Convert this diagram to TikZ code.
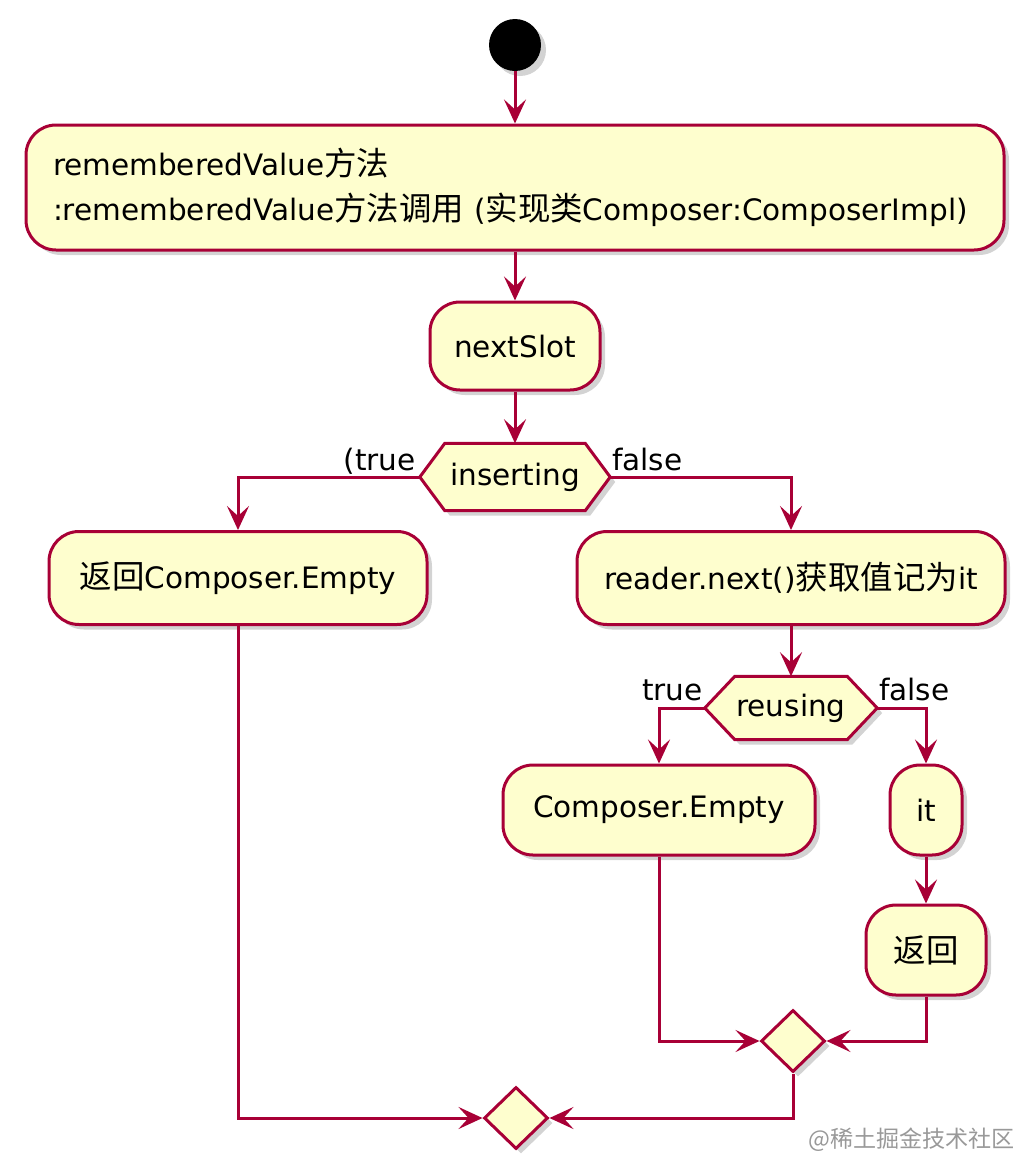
\documentclass[tikz,border=0pt]{standalone}
\usepackage{fontspec}
\setmainfont{DejaVu Sans}
\newfontfamily\cjk[Scale=1.1]{Noto Sans CJK SC}
\usetikzlibrary{arrows.meta,shapes.geometric,shadows}
\definecolor{pborder}{HTML}{A80036}
\definecolor{pfill}{HTML}{FEFECE}
\begin{document}
\begin{tikzpicture}[x=1pt,y=-1pt,
  shd/.style={drop shadow={opacity=0.35,shadow xshift=5pt,shadow yshift=-5pt}},
  txt/.style={font=\fontsize{29.5}{45}\selectfont},
  act/.style={draw=pborder,fill=pfill,line width=3pt,rounded corners=30pt,shd,txt,inner sep=0pt},
  hexframe/.style={draw=pborder,fill=pfill,line width=3pt,shd},
  merge/.style={diamond,draw=pborder,fill=pfill,line width=3pt,shd,inner sep=0pt,minimum width=64pt,minimum height=62pt},
  conn/.style={draw=pborder,line width=3pt,-{Stealth[length=24pt,width=22pt,inset=10pt]}},
  lbl/.style={txt,inner sep=0pt}
]
\useasboundingbox (0,0) rectangle (1036,1173);

% start
\node[circle,fill=black,minimum size=52pt,inner sep=0pt,shd] (start) at (515,45) {};

% first activity
\node[act,minimum width=978pt,minimum height=125pt,text width=924pt,align=left] (box1) at (515,187.5)
  {rememberedValue{\cjk 方法}\\:rememberedValue{\cjk 方法调用} ({\cjk 实现类}Composer:ComposerImpl)};

\node[act,minimum width=170pt,minimum height=88pt] (ns) at (515,346) {nextSlot};

% inserting hexagon
\node[minimum width=140pt,minimum height=67pt,inner sep=0pt] (ins) at (515,477) {};
\coordinate (insL) at ([xshift=-25pt]ins.west);
\coordinate (insR) at ([xshift=25pt]ins.east);
\filldraw[hexframe] (ins.north west) -- (ins.north east) -- (insR) -- (ins.south east) -- (ins.south west) -- (insL) -- cycle;
\node[txt,inner sep=0pt] (insT) at (ins) {inserting};

\node[act,minimum width=378pt,minimum height=93pt] (retE) at (238,578) {{\cjk 返回}Composer.Empty};
\node[act,minimum width=428pt,minimum height=93pt] (rdr) at (791,578) {reader.next(){\cjk 获取值记为}it};

% reusing hexagon
\node[minimum width=112pt,minimum height=63pt,inner sep=0pt] (reu) at (791,708) {};
\coordinate (reuL) at ([xshift=-30pt]reu.west);
\coordinate (reuR) at ([xshift=30pt]reu.east);
\filldraw[hexframe] (reu.north west) -- (reu.north east) -- (reuR) -- (reu.south east) -- (reu.south west) -- (reuL) -- cycle;
\node[txt,inner sep=0pt] (reuT) at (reu) {reusing};

\node[act,minimum width=312pt,minimum height=90pt] (ce) at (659,810) {Composer.Empty};
\node[act,minimum width=72pt,minimum height=90pt] (itb) at (926,810) {it};
\node[act,minimum width=120pt,minimum height=90pt] (ret2) at (926,950) {{\cjk 返回}};

\node[merge] (m1) at (793,1041) {};
\node[merge] (m2) at (516,1118) {};

% labels
\node[lbl,anchor=base east] (lt1) at (416,470) {(true};
\node[lbl,anchor=base west] (lf1) at (612,470) {false};
\node[lbl,anchor=base east] (lt2) at (703,700) {true};
\node[lbl,anchor=base west] (lf2) at (879,700) {false};

% connectors
\draw[conn] (start) -- (box1);
\draw[conn] (box1) -- (ns);
\draw[conn] (ns) -- (ins.north);
\draw[conn] (insL) -| (retE.north);
\draw[conn] (insR) -| (rdr.north);
\draw[conn] (rdr) -- (reu.north);
\draw[conn] (reuL) -| (ce.north);
\draw[conn] (reuR) -| (itb.north);
\draw[conn] (itb) -- (ret2);
\draw[conn] (ce.south) |- (m1.west);
\draw[conn] (ret2.south) |- (m1.east);
\draw[conn] (m1.south) |- (m2.east);
\draw[conn] (retE.south) |- (m2.west);

% watermark
\node[anchor=east,text=black!40,font=\cjk\fontsize{21}{26}\selectfont,inner sep=0pt] (wm) at (1015,1140) {@稀土掘金技术社区};
\end{tikzpicture}
\end{document}
